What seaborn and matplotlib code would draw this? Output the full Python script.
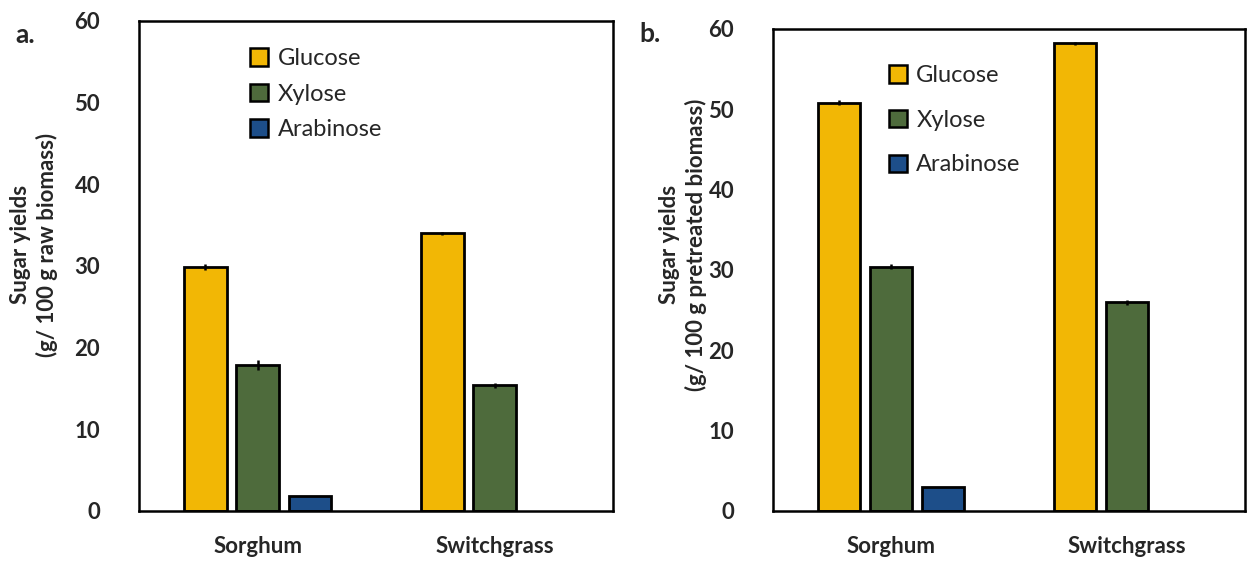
import matplotlib
matplotlib.use("Agg")
import matplotlib.pyplot as plt
import seaborn as sns
import pandas as pd

sns.set_theme(style="white")
plt.rcParams['font.family'] = ['Lato', 'DejaVu Sans']

categories = ["Sorghum", "Switchgrass"]
sugars = ["Glucose", "Xylose", "Arabinose"]
colors = ["#F2B705", "#4E6B3C", "#1D4E89"]

# panel a: g / 100 g raw biomass
raw_glucose = [29.9, 34.0]
raw_xylose = [17.9, 15.4]
raw_arabinose = [1.8, 0.0]
raw_glucose_err = [0.4, 0.2]
raw_xylose_err = [0.6, 0.3]
raw_arabinose_err = [0.0, 0.0]

# panel b: g / 100 g pretreated biomass
pre_glucose = [50.8, 58.2]
pre_xylose = [30.4, 26.0]
pre_arabinose = [3.0, 0.0]
pre_glucose_err = [0.3, 0.2]
pre_xylose_err = [0.3, 0.3]
pre_arabinose_err = [0.0, 0.0]

yticks = [0, 10, 20, 30, 40, 50, 60]


def make_df(g, x, a):
    rows = []
    for name, vals in zip(sugars, [g, x, a]):
        for c, v in zip(categories, vals):
            rows.append({"Biomass": c, "Sugar": name, "Yield": v})
    return pd.DataFrame(rows)


def draw(ax, df, errs, ylabel, label_xy, legend_anchor, labelspacing):
    sns.barplot(data=df, x="Biomass", y="Yield", hue="Sugar", order=categories,
                hue_order=sugars, palette=colors, width=0.66, gap=0.19,
                edgecolor="black", linewidth=2, errorbar=None, ax=ax, saturation=1)
    for cont, err in zip(ax.containers, errs):
        for patch, e in zip(cont.patches, err):
            h = patch.get_height()
            if h <= 0:
                patch.set_visible(False)
                continue
            if e > 0:
                ax.errorbar(patch.get_x() + patch.get_width() / 2, h, yerr=e,
                            fmt="none", ecolor="black", elinewidth=1.8, capsize=0)
    ax.set_ylim(0, 60)
    ax.set_xlim(-0.5, 1.5)
    ax.set_yticks(yticks)
    ax.set_yticklabels([str(t) for t in yticks], fontsize=16, fontweight="bold")
    ax.set_xticks(range(len(categories)))
    ax.set_xticklabels(categories, fontsize=16, fontweight="bold")
    ax.tick_params(axis="y", left=False, pad=22)
    ax.tick_params(axis="x", bottom=False, pad=12)
    ax.set_xlabel("")
    ax.set_ylabel(ylabel, fontsize=16, fontweight="bold", linespacing=1.25)
    ax.yaxis.set_label_coords(*label_xy)
    for s in ax.spines.values():
        s.set_visible(True)
        s.set_color("black")
        s.set_linewidth(1.8)
    leg = ax.legend(loc="upper left", bbox_to_anchor=legend_anchor, frameon=False,
                    fontsize=17, handlelength=0.75, handleheight=0.75,
                    handletextpad=0.4, labelspacing=labelspacing)
    for h in leg.legend_handles:
        h.set_edgecolor("black")
        h.set_linewidth(1.8)


fig = plt.figure(figsize=(12.47, 5.65), dpi=100)
ax1 = fig.add_axes([0.1115, 0.0956, 0.3801, 0.8673])
ax2 = fig.add_axes([0.6199, 0.0956, 0.3785, 0.8531])

draw(ax1, make_df(raw_glucose, raw_xylose, raw_arabinose),
     [raw_glucose_err, raw_xylose_err, raw_arabinose_err],
     "Sugar yields\n(g/ 100 g raw biomass)", (-0.171, 0.543), (0.19, 0.988), 0.62)
draw(ax2, make_df(pre_glucose, pre_xylose, pre_arabinose),
     [pre_glucose_err, pre_xylose_err, pre_arabinose_err],
     "Sugar yields\n(g/ 100 g pretreated biomass)", (-0.14, 0.552), (0.201, 0.969), 1.0)

fig.text(0.012, 0.924, "a.", fontsize=19, fontweight="bold")
fig.text(0.513, 0.926, "b.", fontsize=19, fontweight="bold")

fig.savefig("out.png", dpi=100)
